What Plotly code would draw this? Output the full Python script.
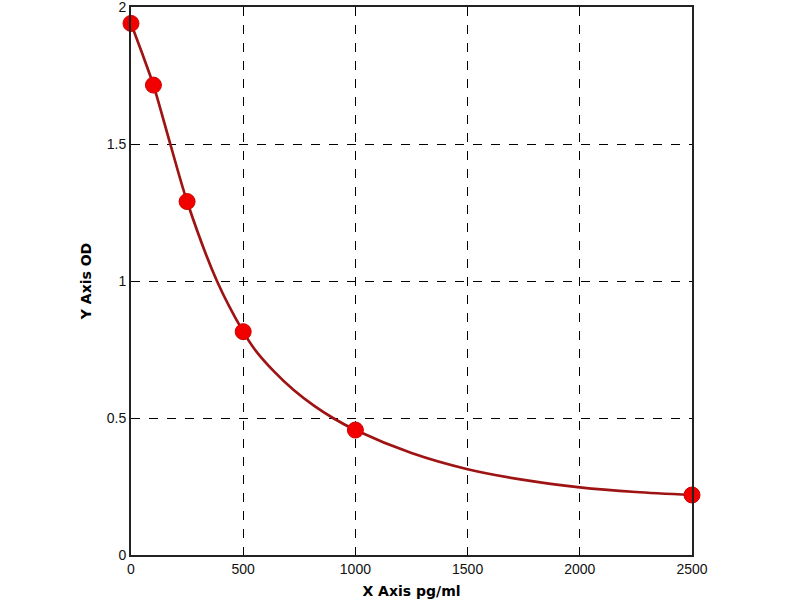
import plotly.graph_objects as go

# Standard points
std_conc = [0, 100, 250, 500, 1000, 2500]
std_od = [1.94, 1.715, 1.29, 0.815, 0.456, 0.219]

# Fitted curve, values
curve_conc = [0, 50, 100, 175, 250, 383, 500, 550, 635, 725, 815, 900, 1000, 1250, 1500, 1750, 2000, 2250, 2500]
curve_od = [1.94, 1.83, 1.715, 1.5, 1.29, 1.0, 0.815, 0.752, 0.672, 0.602, 0.545, 0.50, 0.456, 0.372, 0.313, 0.274, 0.247, 0.23, 0.219]

x_ticks = [0, 500, 1000, 1500, 2000, 2500]
y_ticks = [0, 0.5, 1, 1.5, 2]
y_tick_labels = ["0", "0.5", "1", "1.5", "2"]

fig = go.Figure()
fig.add_trace(go.Scatter(
    x=curve_conc, y=curve_od, mode="lines",
    line=dict(color="#9e1414", width=2.7, shape="spline", smoothing=0.8),
    hoverinfo="skip", showlegend=False, cliponaxis=False,
))
fig.add_trace(go.Scatter(
    x=std_conc, y=std_od, mode="markers",
    marker=dict(color="#f20000", size=16, line=dict(color="#cc0000", width=1)),
    showlegend=False, cliponaxis=False,
))

axis_font = dict(family="Liberation Sans, Arial, sans-serif", size=14, color="#111111")
title_font = dict(family="DejaVu Sans, Verdana, sans-serif", size=14, color="black")
fig.update_layout(
    width=800, height=600,
    margin=dict(l=131, r=108, t=7, b=45),
    paper_bgcolor="white", plot_bgcolor="white",
    font=axis_font,
    xaxis=dict(
        range=[0, 2500], tickvals=x_ticks, ticks="", automargin=False,
        ticklabeloverflow="allow",
        showgrid=True, gridcolor="black", griddash="dash", gridwidth=1,
        showline=True, linecolor="#222222", linewidth=2, mirror=True,
        zeroline=False, tickfont=axis_font,
        title=dict(text="<b>X Axis pg/ml</b>", font=title_font, standoff=10),
    ),
    yaxis=dict(
        range=[0, 2], tickvals=y_ticks, ticktext=y_tick_labels, ticks="", automargin=False,
        ticklabeloverflow="allow",
        showgrid=True, gridcolor="black", griddash="dash", gridwidth=1,
        showline=True, linecolor="#222222", linewidth=2, mirror=True,
        zeroline=False, tickfont=axis_font,
        title=dict(text="<b>Y Axis OD</b>", font=title_font, standoff=12),
    ),
)

fig.write_html("out.html", config={"displayModeBar": False},
               post_script="document.body.style.margin='0';")
